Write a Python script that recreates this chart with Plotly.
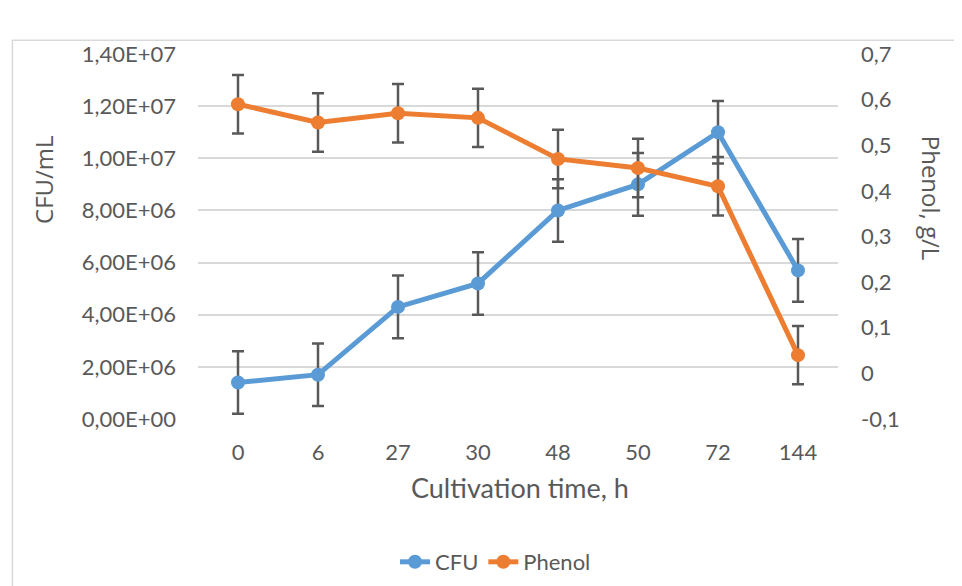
import plotly.graph_objects as go

time_h = ["0", "6", "27", "30", "48", "50", "72", "144"]
cfu = [1.4e6, 1.7e6, 4.3e6, 5.2e6, 8.0e6, 9.0e6, 1.1e7, 5.7e6]
cfu_err = [1.2e6, 1.2e6, 1.2e6, 1.2e6, 1.2e6, 1.2e6, 1.2e6, 1.2e6]
phenol = [0.59, 0.55, 0.57, 0.56, 0.47, 0.45, 0.41, 0.04]
phenol_err = [0.064, 0.064, 0.064, 0.064, 0.064, 0.064, 0.064, 0.064]

left_vals = [0, 2e6, 4e6, 6e6, 8e6, 1e7, 1.2e7, 1.4e7]
left_text = ["0,00E+00", "2,00E+06", "4,00E+06", "6,00E+06", "8,00E+06",
             "1,00E+07", "1,20E+07", "1,40E+07"]
right_vals = [-0.1, 0, 0.1, 0.2, 0.3, 0.4, 0.5, 0.6, 0.7]
right_text = ["-0,1", "0", "0,1", "0,2", "0,3", "0,4", "0,5", "0,6", "0,7"]

BLUE = "#5B9BD5"
ORANGE = "#ED7D31"
GRAY = "#595959"
FONT = "Lato, sans-serif"
TFONT = "Open Sans, sans-serif"

fig = go.Figure()
fig.add_trace(go.Scatter(
    x=time_h, y=cfu, name="CFU", mode="lines+markers",
    line=dict(color=BLUE, width=5), marker=dict(color=BLUE, size=14),
    error_y=dict(type="data", array=cfu_err, color=GRAY, thickness=2.5, width=6),
    yaxis="y"))
fig.add_trace(go.Scatter(
    x=time_h, y=phenol, name="Phenol", mode="lines+markers",
    line=dict(color=ORANGE, width=5), marker=dict(color=ORANGE, size=14),
    error_y=dict(type="data", array=phenol_err, color=GRAY, thickness=2.5, width=6),
    yaxis="y2"))

fig.update_layout(
    width=954, height=578,
    margin=dict(l=190, r=124, t=46, b=167, autoexpand=False),
    paper_bgcolor="white", plot_bgcolor="white",
    font=dict(family=FONT, color=GRAY, size=22),
    xaxis=dict(type="category", range=[-0.5, 7.5], showgrid=False, showline=False,
               zeroline=False, tickfont=dict(size=22, color=GRAY), ticks="",
               ticklabelstandoff=18),
    yaxis=dict(range=[0, 1.4e7], tickvals=left_vals, ticktext=left_text,
               showgrid=True, gridcolor="#D9D9D9", gridwidth=1.5, zeroline=False,
               showline=False, tickfont=dict(size=22, color=GRAY),
               ticklabelstandoff=21),
    yaxis2=dict(range=[-0.1, 0.7], tickvals=right_vals, ticktext=right_text,
                overlaying="y", side="right", showgrid=False, zeroline=False,
                showline=False, tickfont=dict(size=22, color=GRAY),
                ticklabelstandoff=22),
    showlegend=True,
    legend=dict(orientation="h", xref="container", yref="container",
                x=0.511, xanchor="center", y=0.0415, yanchor="middle",
                font=dict(size=22, color=GRAY, family=FONT),
                bgcolor="rgba(0,0,0,0)"),
    annotations=[
        dict(text="CFU/mL", xref="paper", yref="paper", x=-0.2406, y=0.655,
             textangle=-90, showarrow=False, font=dict(size=24, color=GRAY,
             family=TFONT), xanchor="center", yanchor="middle"),
        dict(text="Phenol, g/L", xref="paper", yref="paper", x=1.146, y=0.605,
             textangle=90, showarrow=False, font=dict(size=24, color=GRAY,
             family=TFONT), xanchor="center", yanchor="middle"),
        dict(text="Cultivation time, h", xref="paper", yref="paper", x=0.503, y=-0.189,
             showarrow=False, font=dict(size=27, color=GRAY, family=FONT),
             xanchor="center", yanchor="middle"),
    ],
    shapes=[
        dict(type="rect", xref="paper", yref="paper", x0=-0.29, x1=1.4, y0=-0.6,
             y1=1.038, line=dict(color="#D9D9D9", width=1.5), fillcolor="rgba(0,0,0,0)",
             layer="below"),
    ],
)

fig.write_html("out.html")
